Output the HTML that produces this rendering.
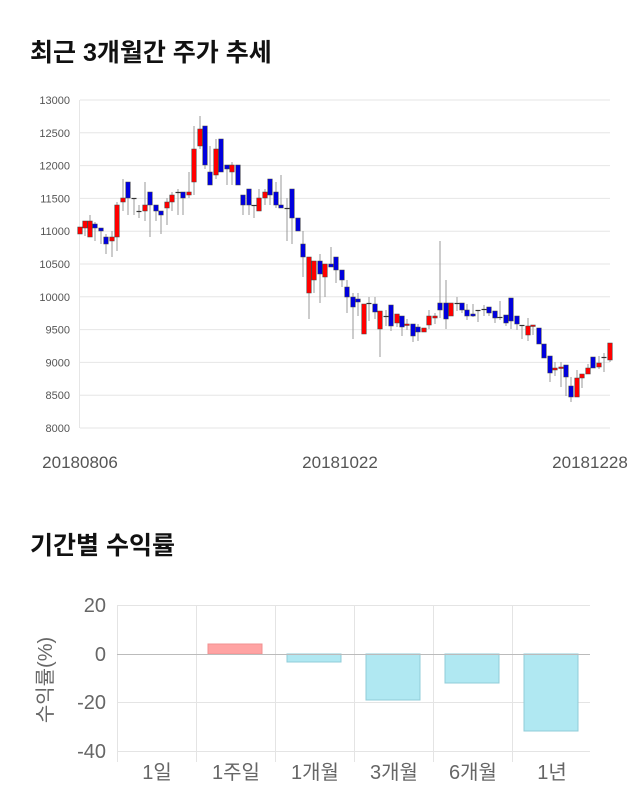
<!DOCTYPE html>
<html><head><meta charset="utf-8"><style>
body{margin:0;background:#fff;}
svg{display:block;font-family:"Liberation Sans","Noto Sans CJK KR",sans-serif;}
</style></head><body>
<svg id="s" width="640" height="810" xmlns="http://www.w3.org/2000/svg">
<text x="30" y="61" font-size="25" font-weight="bold" fill="#111">최근 3개월간 주가 추세</text>
<g id="grid"></g>
<g id="c"></g>
<text x="80" y="468" font-size="17" fill="#555" text-anchor="middle">20180806</text>
<text x="340" y="468" font-size="17" fill="#555" text-anchor="middle">20181022</text>
<text x="590" y="468" font-size="17" fill="#555" text-anchor="middle">20181228</text>
<text x="30" y="554" font-size="25" font-weight="bold" fill="#111">기간별 수익률</text>
<g stroke="#e4e4e4" stroke-width="1">
<line x1="117" y1="605.5" x2="590" y2="605.5"/>
<line x1="117" y1="702.5" x2="590" y2="702.5"/>
<line x1="117" y1="751.5" x2="590" y2="751.5"/>
<line x1="117.5" y1="605" x2="117.5" y2="762"/>
<line x1="196.5" y1="605" x2="196.5" y2="762"/>
<line x1="275.5" y1="605" x2="275.5" y2="762"/>
<line x1="354.5" y1="605" x2="354.5" y2="762"/>
<line x1="433.5" y1="605" x2="433.5" y2="762"/>
<line x1="512.5" y1="605" x2="512.5" y2="762"/>
</g>
<rect x="208" y="644" width="54" height="10" fill="#ffa3a3" stroke="#f09090"/>
<rect x="287" y="654" width="54" height="8" fill="#b0e8f2" stroke="#90ccd8"/>
<rect x="366" y="654" width="54" height="46" fill="#b0e8f2" stroke="#90ccd8"/>
<rect x="445" y="654" width="54" height="29" fill="#b0e8f2" stroke="#90ccd8"/>
<rect x="524" y="654" width="54" height="77" fill="#b0e8f2" stroke="#90ccd8"/>
<line x1="117" y1="654.5" x2="590" y2="654.5" stroke="#bbb"/>
<g font-size="20" fill="#666" text-anchor="end">
<text x="106" y="612">20</text><text x="106" y="661">0</text>
<text x="106" y="709">-20</text><text x="106" y="758">-40</text>
</g>
<g font-size="20" fill="#666" text-anchor="middle">
<text x="157" y="779">1일</text><text x="236" y="779">1주일</text>
<text x="315" y="779">1개월</text><text x="394" y="779">3개월</text>
<text x="473" y="779">6개월</text><text x="552" y="779">1년</text>
</g>
<text transform="translate(52,680) rotate(-90)" font-size="20" fill="#666" text-anchor="middle">수익률(%)</text>
</svg>
<script>
var ns="http://www.w3.org/2000/svg",g=document.getElementById('grid'),c=document.getElementById('c');
function el(p,t,a){var e=document.createElementNS(ns,t);for(var k in a)e.setAttribute(k,a[k]);p.appendChild(e);return e;}
var labs=[13000,12500,12000,11500,11000,10500,10000,9500,9000,8500,8000];
labs.forEach(function(v,i){var y=100+i*32.8;
el(g,'line',{x1:80,x2:610,y1:y.toFixed(1),y2:y.toFixed(1),stroke:'#e6e6e6'});
var t=el(g,'text',{x:70,y:(y+4).toFixed(1),'font-size':11,fill:'#555','text-anchor':'end'});t.textContent=v;});
el(g,'line',{x1:79.5,x2:79.5,y1:100,y2:428,stroke:'#e6e6e6'});
var d=[[80,'r',227,234,227,234],[85,'r',221,228,221,236],[90,'r',221,237,215,237],[95,'b',224,228,222,241],[101,'b',228,231,228,244],[106,'b',237,244,234,254],[112,'r',237,241,231,257],[117,'r',205,237,202,251],[123,'r',198,202,179,211],[128,'b',182,198,182,215],[134,'d',198,198,198,215],[139,'d',211,211,205,218],[145,'r',205,211,182,221],[150,'b',192,205,192,237],[156,'b',205,211,205,221],[161,'b',211,215,211,234],[167,'r',202,208,198,225],[172,'r',195,202,192,211],[178,'d',192,192,189,215],[183,'b',192,198,192,215],[189,'r',192,195,172,198],[194,'r',149,182,126,195],[200,'r',129,146,116,149],[205,'b',126,165,126,169],[210,'b',172,185,146,185],[216,'r',149,175,139,179],[221,'b',139,172,139,172],[227,'b',165,169,165,185],[232,'r',165,172,162,185],[238,'b',165,185,165,185],[243,'b',195,205,195,215],[249,'b',189,205,189,215],[254,'d',205,205,205,218],[259,'r',198,211,189,211],[265,'r',192,198,189,205],[270,'b',179,195,179,205],[276,'b',192,205,182,208],[281,'b',205,208,175,208],[287,'d',208,208,198,241],[292,'b',189,218,189,244],[298,'b',218,231,218,231],[303,'b',244,257,231,277],[309,'r',257,293,257,319],[314,'r',261,280,261,293],[320,'b',261,274,254,303],[325,'r',264,277,264,297],[331,'b',264,267,247,267],[336,'b',257,270,257,283],[342,'b',270,280,270,287],[347,'b',287,297,280,313],[353,'b',297,307,293,339],[358,'b',299,302,293,316],[364,'r',304,334,304,334],[369,'d',303,303,297,321],[375,'b',304,312,297,319],[380,'r',311,329,311,357],[386,'d',316,316,310,326],[391,'b',305,326,305,331],[397,'r',314,323,314,327],[402,'b',316,327,316,336],[407,'r',324,325,319,330],[413,'b',324,336,324,342],[418,'b',327,332,324,341],[424,'r',328,332,328,332],[429,'r',316,325,310,329],[435,'r',316,318,313,324],[440,'b',303,310,241,318],[446,'b',303,319,280,329],[451,'r',303,316,303,316],[457,'d',303,303,297,311],[462,'b',303,310,303,313],[467,'b',310,316,304,320],[473,'b',314,316,304,317],[478,'d',310,310,310,322],[484,'d',309,309,305,316],[489,'b',307,313,307,316],[495,'b',311,318,311,323],[500,'d',317,317,301,320],[506,'b',315,323,315,326],[511,'b',298,321,298,329],[517,'b',316,324,316,330],[522,'d',325,325,325,339],[528,'r',326,335,318,341],[533,'r',325,326,325,335],[539,'b',328,344,328,344],[544,'b',344,358,344,358],[550,'b',356,373,356,382],[555,'r',368,370,362,376],[561,'r',367,368,362,387],[566,'b',365,377,365,396],[571,'b',386,397,377,402],[577,'r',378,397,370,397],[582,'r',374,378,374,388],[588,'r',368,374,364,374],[593,'b',357,368,357,368],[599,'r',363,367,356,369],[604,'d',357,357,353,372],[610,'r',343,360,343,362]];
d.forEach(function(q){var x=q[0];
el(c,'line',{x1:x,x2:x,y1:q[4],y2:q[5],stroke:'#999','stroke-width':1});
if(q[1]=='d'){el(c,'line',{x1:x-2.5,x2:x+2.5,y1:q[2]+.5,y2:q[2]+.5,stroke:'#333','stroke-width':1.2});}
else{var h=Math.max(q[3]-q[2],1.5);el(c,'rect',{x:x-2.3,y:q[2],width:4.6,height:h,fill:q[1]=='r'?'#ff0000':'#0000dd',stroke:'#444','stroke-width':0.5});}
});
</script>
</body></html>
